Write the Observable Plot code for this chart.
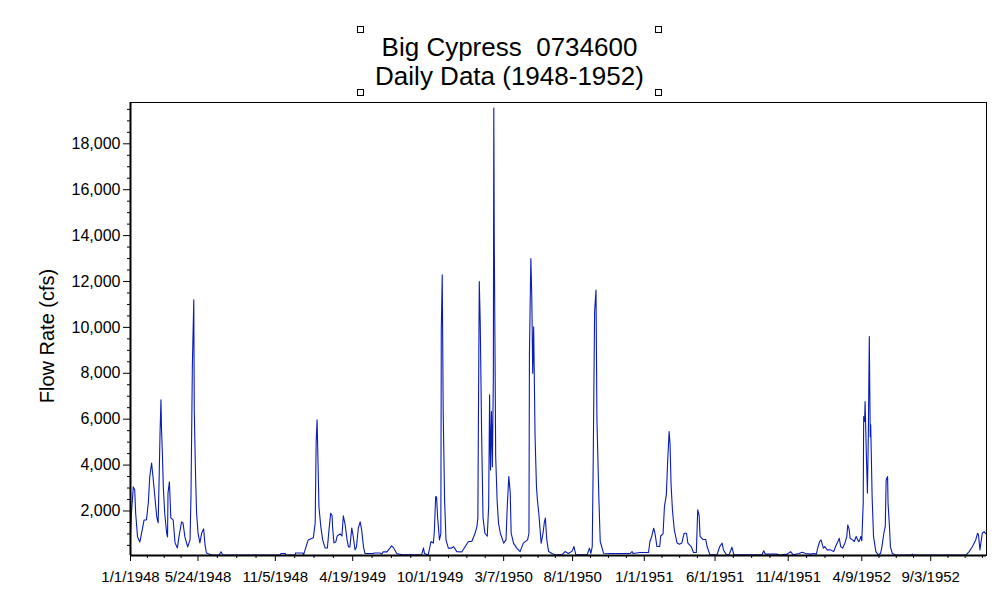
<!DOCTYPE html>
<html>
<head>
<meta charset="utf-8">
<script src="https://cdn.jsdelivr.net/npm/d3@7"></script>
<script src="https://cdn.jsdelivr.net/npm/@observablehq/plot@0.6"></script>
<style>
  html, body { margin: 0; padding: 0; background: #fff; }
  #wrap { position: relative; width: 1000px; height: 605px; overflow: hidden; font-family: "Liberation Sans", Arial, sans-serif; }
  #chart { position: absolute; left: 0; top: 0; }
  .title { position: absolute; left: 0; width: 1019px; text-align: center; font-size: 26px; color: #000; white-space: pre; line-height: normal; }
  .handle { position: absolute; width: 5px; height: 5px; border: 1px solid #000; background: #fff; }
  #ylabel { position: absolute; left: 47px; top: 336px; transform: translate(-50%, -50%) rotate(-90deg); font-size: 20px; white-space: nowrap; color: #000; }
</style>
</head>
<body>
<div id="wrap">
  <div id="chart"></div>
  <div class="title" style="top:32px">Big Cypress  0734600</div>
  <div class="title" style="top:61px">Daily Data (1948-1952)</div>
  <div class="handle" style="left:357px;top:26px"></div>
  <div class="handle" style="left:655px;top:26px"></div>
  <div class="handle" style="left:357px;top:89px"></div>
  <div class="handle" style="left:655px;top:89px"></div>
  <div id="ylabel">Flow Rate (cfs)</div>
</div>
<script>
const dayOffsets = [
  0,2,6,9,11,15,20,25,29,34,
  38,41,45,48,52,56,59,61,63,65,
  66,68,70,73,77,79,80,83,86,91,
  95,100,104,109,112,116,122,127,129,132,
  135,136,139,141,144,148,152,156,159,162,
  173,189,193,197,255,319,321,330,331,351,
  352,368,369,379,390,394,396,398,400,402,
  406,410,415,420,423,427,430,431,434,438,
  441,447,451,454,458,462,465,468,472,475,
  479,482,486,490,493,497,500,518,520,532,
  536,539,547,557,561,568,579,621,625,627,
  635,641,646,648,651,653,655,659,662,663,
  665,667,670,673,678,685,689,696,707,714,
  721,728,735,739,741,742,744,746,749,752,
  756,761,764,766,768,770,772,774,775,776,
  779,782,785,789,796,801,804,807,810,812,
  817,824,831,838,847,850,851,854,856,858,
  860,863,866,868,871,876,880,883,885,888,
  892,899,906,920,927,934,942,946,950,974,
  979,982,985,987,990,993,995,999,1002,1009,
  1024,1045,1066,1070,1072,1087,1105,1108,1112,1116,
  1119,1123,1129,1131,1136,1139,1143,1146,1149,1151,
  1153,1156,1160,1166,1171,1176,1181,1186,1189,1196,
  1201,1207,1210,1213,1215,1221,1227,1230,1236,1251,
  1257,1262,1265,1271,1277,1283,1287,1347,1351,1354,
  1379,1386,1401,1408,1414,1426,1433,1440,1451,1458,
  1463,1466,1470,1473,1478,1481,1486,1493,1500,1504,
  1509,1512,1515,1519,1524,1528,1530,1533,1535,1540,
  1544,1548,1553,1555,1558,1560,1563,1564,1566,1567,
  1570,1572,1574,1576,1578,1579,1582,1585,1590,1595,
  1600,1603,1607,1610,1612,1615,1616,1619,1621,1625,
  1632,1664,1668,1670,1782,1789,1796,1803,1807,1809,
  1812,1815,1817,1821,1825
];
// Flow rate (cfs)
const flowCfs = [
  1045,1900,3050,2920,1900,870,650,1180,1610,1610,
  2350,3480,4090,3480,2610,1740,1480,3350,5400,6840,
  5660,4530,3050,1900,1050,870,2790,3270,1700,1610,
  610,390,960,1525,1480,870,435,740,2610,8370,
  11200,6400,3350,1900,1050,610,1050,1220,520,170,
  80,80,220,80,80,80,150,150,80,80,
  170,170,80,740,830,1480,4970,5970,4090,2180,
  1310,740,390,390,1090,1900,1800,1310,610,650,
  910,1000,910,1790,1390,740,435,435,1260,900,
  305,435,1260,1525,1180,435,150,150,170,170,
  120,220,220,480,400,150,90,90,390,150,
  80,670,600,1050,2630,2600,1760,740,1000,9960,
  12290,6400,2480,740,380,380,450,230,220,450,
  670,670,1030,1320,1700,5390,12000,10250,5390,1700,
  1030,900,2190,7060,3790,6330,3930,7790,19560,13800,
  4370,2480,1470,1030,600,740,2340,3500,2800,1030,
  600,380,230,600,740,1030,8870,13000,11340,8000,
  10030,5240,3060,2480,1900,600,1030,1540,1690,740,
  230,150,90,90,230,150,250,450,90,90,
  380,150,450,4080,10690,11630,5970,2630,670,160,
  150,150,150,230,150,190,190,670,900,1250,
  1000,450,450,910,1000,2190,2700,4230,5460,4900,
  3210,2050,1180,600,550,600,1030,1030,600,450,
  190,190,2050,1800,890,760,760,450,90,90,
  450,600,300,90,90,420,90,90,270,120,
  120,80,120,230,90,150,200,150,120,150,
  120,380,670,740,380,450,305,305,230,450,
  670,810,450,380,600,890,1390,1200,810,740,
  670,890,670,700,890,700,2340,6110,5900,6770,
  4230,2780,5390,9600,5240,5750,2630,890,230,90,
  150,450,1030,1320,3350,3500,2340,1320,450,150,
  80,80,120,80,80,230,450,740,1030,950,
  305,740,1030,1100,1000
];
const xTickLabels = ["1/1/1948","5/24/1948","11/5/1948","4/19/1949","10/1/1949","3/7/1950",
  "8/1/1950","1/1/1951","6/1/1951","11/4/1951","4/9/1952","9/3/1952"];
const yTicks = [2000,4000,6000,8000,10000,12000,14000,16000,18000];
const yMinorTicks = [500,1000,1500,2500,3000,3500,4500,5000,5500,6500,7000,7500,8500,9000,9500,
  10500,11000,11500,12500,13000,13500,14500,15000,15500,16500,17000,17500,18500,19000,19500];

const start = new Date(Date.UTC(1948, 0, 1));
const end = new Date(Date.UTC(1952, 11, 31));
const data = dayOffsets.map((d, i) => ({date: d3.utcDay.offset(start, d), flow: flowCfs[i]}));
const parse = d3.utcParse("%m/%d/%Y");
const xTicks = xTickLabels.map(parse);
const xMinor = [];
for (let i = 0; i < xTicks.length; i++) {
  const a = +xTicks[i];
  const b = i + 1 < xTicks.length ? +xTicks[i + 1] : null;
  const step = b != null ? (b - a) / 4 : (a - +xTicks[i - 1]) / 4;
  for (let k = 1; ; k++) {
    const t = a + k * step;
    if (b != null ? k >= 4 : t > +end) break;
    xMinor.push(new Date(t));
  }
}
const yDomain = [60, 19800];

const chart = Plot.plot({
  width: 1000,
  height: 605,
  marginLeft: 130,
  marginRight: 14,
  marginTop: 102,
  marginBottom: 50,
  style: {fontFamily: "'Liberation Sans', Arial, sans-serif", background: "#fff", color: "#000"},
  x: {type: "utc", domain: [start, end], axis: null},
  y: {domain: yDomain, axis: null},
  marks: [
    Plot.axisY(yMinorTicks, {tickSize: 3, fill: "none", label: null}),
    Plot.axisY(yTicks, {tickSize: 7, tickPadding: 3, fontSize: 16, tickFormat: d3.format(","), label: null}),
    Plot.axisX(xMinor, {tickSize: 3, fill: "none", label: null}),
    Plot.axisX(xTicks, {tickSize: 6, tickPadding: 10, fontSize: 15, tickFormat: (d, i) => xTickLabels[i], label: null}),
    Plot.line(data, {x: "date", y: "flow", stroke: "#0a1cb8", strokeWidth: 1.1}),
    Plot.frame({stroke: "#000", strokeWidth: 1}),
    Plot.ruleX([start], {stroke: "#000", strokeWidth: 2}),
    Plot.ruleY([yDomain[0]], {stroke: "#000", strokeWidth: 2})
  ]
});
document.getElementById("chart").appendChild(chart);
</script>
</body>
</html>
